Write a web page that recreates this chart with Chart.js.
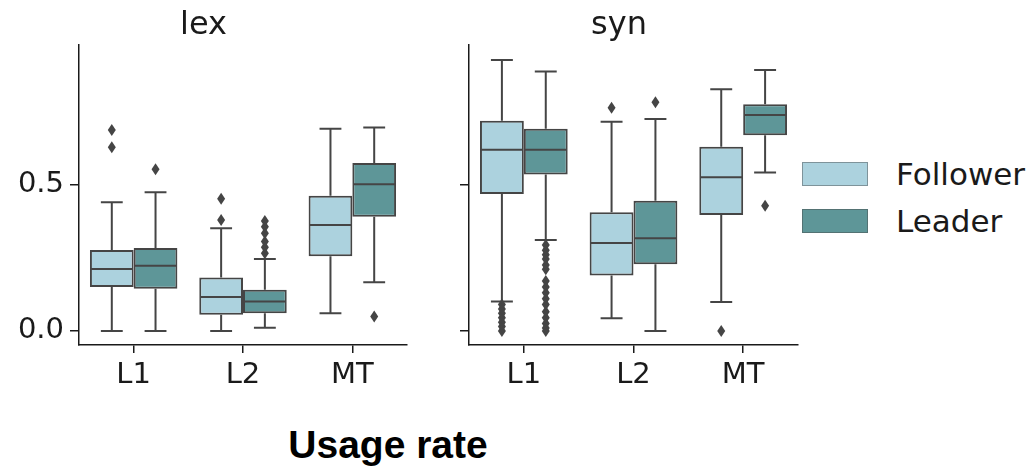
<!DOCTYPE html>
<html>
<head>
<meta charset="utf-8">
<script src="https://cdn.jsdelivr.net/npm/chart.js@4/dist/chart.umd.min.js"></script>
<style>
  html, body { margin: 0; padding: 0; background: #fff; }
  body { width: 1036px; height: 467px; position: relative; overflow: hidden; font-family: 'DejaVu Sans', sans-serif; }
  canvas { position: absolute; top: 0; }
  #lexChart { left: 0; }
  #synChart { left: 440px; }
  .legend-item { position: absolute; left: 802px; height: 24px; }
  .swatch { position: absolute; left: 0; top: 0; width: 64px; height: 22px; border: 1px solid rgba(70,70,70,0.45); }
  .legend-label { position: absolute; left: 94px; top: -6px; font-size: 31px; line-height: 36px; color: #1a1a1a; white-space: nowrap; }
  #xTitle { position: absolute; left: 188px; width: 400px; top: 426px; text-align: center; font: bold 39px 'Liberation Sans', Arial, sans-serif; line-height: 38px; color: #000; }
</style>
</head>
<body>
<canvas id="lexChart" width="412" height="400"></canvas>
<canvas id="synChart" width="362" height="400"></canvas>
<div class="legend-item" style="top:162px"><div class="swatch" id="swFollower"></div><div class="legend-label">Follower</div></div>
<div class="legend-item" style="top:209px"><div class="swatch" id="swLeader"></div><div class="legend-label">Leader</div></div>
<div id="xTitle">Usage rate</div>
<script>
// categories and tick values
const categories = ['L1', 'L2', 'MT'];
const yTicks = [0.0, 0.5];
const seriesNames = ['Follower', 'Leader'];

// box stats per category: [lower whisker, Q1, median, Q3, upper whisker]
const lexFollowerStats = [[0.000, 0.150, 0.211, 0.276, 0.439], [0.000, 0.055, 0.116, 0.182, 0.350], [0.060, 0.255, 0.361, 0.461, 0.689]];
const lexFollowerOutliers = [[0.626, 0.685], [0.378, 0.451], []];
const lexLeaderStats = [[0.000, 0.144, 0.222, 0.283, 0.473], [0.011, 0.060, 0.100, 0.140, 0.245], [0.166, 0.389, 0.500, 0.573, 0.694]];
const lexLeaderOutliers = [[0.551], [0.265, 0.285, 0.305, 0.333, 0.355, 0.375], [0.049]];

const synFollowerStats = [[0.100, 0.467, 0.618, 0.717, 0.924], [0.043, 0.189, 0.300, 0.405, 0.713], [0.099, 0.395, 0.524, 0.628, 0.824]];
const synFollowerOutliers = [[0.000, 0.015, 0.030, 0.045, 0.060, 0.075, 0.090], [0.761], [0.000]];
const synLeaderStats = [[0.310, 0.533, 0.618, 0.689, 0.885], [0.000, 0.227, 0.316, 0.444, 0.723], [0.540, 0.667, 0.736, 0.773, 0.890]];
const synLeaderOutliers = [[0.000, 0.010, 0.025, 0.045, 0.065, 0.090, 0.110, 0.130, 0.150, 0.170, 0.210, 0.225, 0.245, 0.260, 0.275, 0.293], [0.780], [0.427]];

const followerColor = '#acd2de';
const leaderColor = '#5e9698';
const lineColor = '#454545';
const axisColor = '#1a1a1a';

document.getElementById('swFollower').style.background = followerColor;
document.getElementById('swLeader').style.background = leaderColor;

// draws whiskers, caps, medians and outlier diamonds on top of the floating bars
const boxPlotPlugin = {
    id: 'boxPlot',
    afterDatasetsDraw(chart) {
        const ctx = chart.ctx;
        const yScale = chart.scales.y;
        chart.data.datasets.forEach((ds, di) => {
            const meta = chart.getDatasetMeta(di);
            meta.data.forEach((bar, i) => {
                const [lo, q1, med, q3, hi] = ds.stats[i];
                const x = bar.x, w = bar.width;
                const py = v => yScale.getPixelForValue(v);
                ctx.save();
                ctx.strokeStyle = lineColor;
                ctx.lineWidth = 2;
                ctx.beginPath();
                ctx.moveTo(x, py(q3)); ctx.lineTo(x, py(hi));
                ctx.moveTo(x, py(q1)); ctx.lineTo(x, py(lo));
                ctx.moveTo(x - w / 4, py(hi)); ctx.lineTo(x + w / 4, py(hi));
                ctx.moveTo(x - w / 4, py(lo)); ctx.lineTo(x + w / 4, py(lo));
                ctx.moveTo(x - w / 2 + 1, py(med)); ctx.lineTo(x + w / 2 - 1, py(med));
                ctx.stroke();
                ctx.fillStyle = lineColor;
                ds.outliers[i].forEach(v => {
                    const oy = py(v);
                    ctx.beginPath();
                    ctx.moveTo(x, oy - 6);
                    ctx.lineTo(x + 4, oy);
                    ctx.lineTo(x, oy + 6);
                    ctx.lineTo(x - 4, oy);
                    ctx.closePath();
                    ctx.fill();
                });
                ctx.restore();
            });
        });
    }
};

function makeDataset(name, stats, outliers, color) {
    return {
        label: name,
        data: stats.map(s => [s[1], s[3]]),
        stats: stats,
        outliers: outliers,
        backgroundColor: color,
        borderColor: lineColor,
        borderWidth: 2,
        borderSkipped: false,
        categoryPercentage: 0.8,
        barPercentage: 1.0
    };
}

function makeChart(id, title, follower, leader, showYLabels, yWidth, rightPad) {
    new Chart(document.getElementById(id), {
        type: 'bar',
        data: {
            labels: categories,
            datasets: [
                makeDataset(seriesNames[0], follower[0], follower[1], followerColor),
                makeDataset(seriesNames[1], leader[0], leader[1], leaderColor)
            ]
        },
        options: {
            responsive: false,
            animation: false,
            layout: { padding: { right: rightPad, top: 0, bottom: 0, left: 0 } },
            plugins: {
                legend: { display: false },
                tooltip: { enabled: false },
                title: {
                    display: true,
                    text: title,
                    color: axisColor,
                    font: { family: 'DejaVu Sans', size: 32, weight: 'normal' },
                    padding: { top: 6, bottom: 0.6 }
                }
            },
            scales: {
                x: {
                    type: 'category',
                    offset: true,
                    afterFit: s => { s.height = 55; },
                    grid: { display: true, offset: false, drawOnChartArea: false, drawTicks: true, tickLength: 8, color: axisColor, lineWidth: 1.5 },
                    border: { display: true, color: axisColor, width: 1.5 },
                    ticks: { color: axisColor, font: { family: 'DejaVu Sans', size: 29 }, padding: 5, maxRotation: 0 }
                },
                y: {
                    min: -0.048,
                    max: 0.975,
                    afterFit: s => { s.width = yWidth; },
                    afterBuildTicks: s => { s.ticks = yTicks.map(v => ({ value: v })); },
                    grid: { display: true, drawOnChartArea: false, drawTicks: true, tickLength: 9, color: axisColor, lineWidth: 1.5 },
                    border: { display: true, color: axisColor, width: 1.5 },
                    ticks: {
                        display: showYLabels,
                        color: axisColor,
                        font: { family: 'DejaVu Sans', size: 29 },
                        padding: 6,
                        callback: v => Number(v).toFixed(1)
                    }
                }
            }
        },
        plugins: [boxPlotPlugin]
    });
}

makeChart('lexChart', 'lex', [lexFollowerStats, lexFollowerOutliers], [lexLeaderStats, lexLeaderOutliers], true, 79, 5);
makeChart('synChart', 'syn', [synFollowerStats, synFollowerOutliers], [synLeaderStats, synLeaderOutliers], false, 29, 4);
</script>
</body>
</html>
